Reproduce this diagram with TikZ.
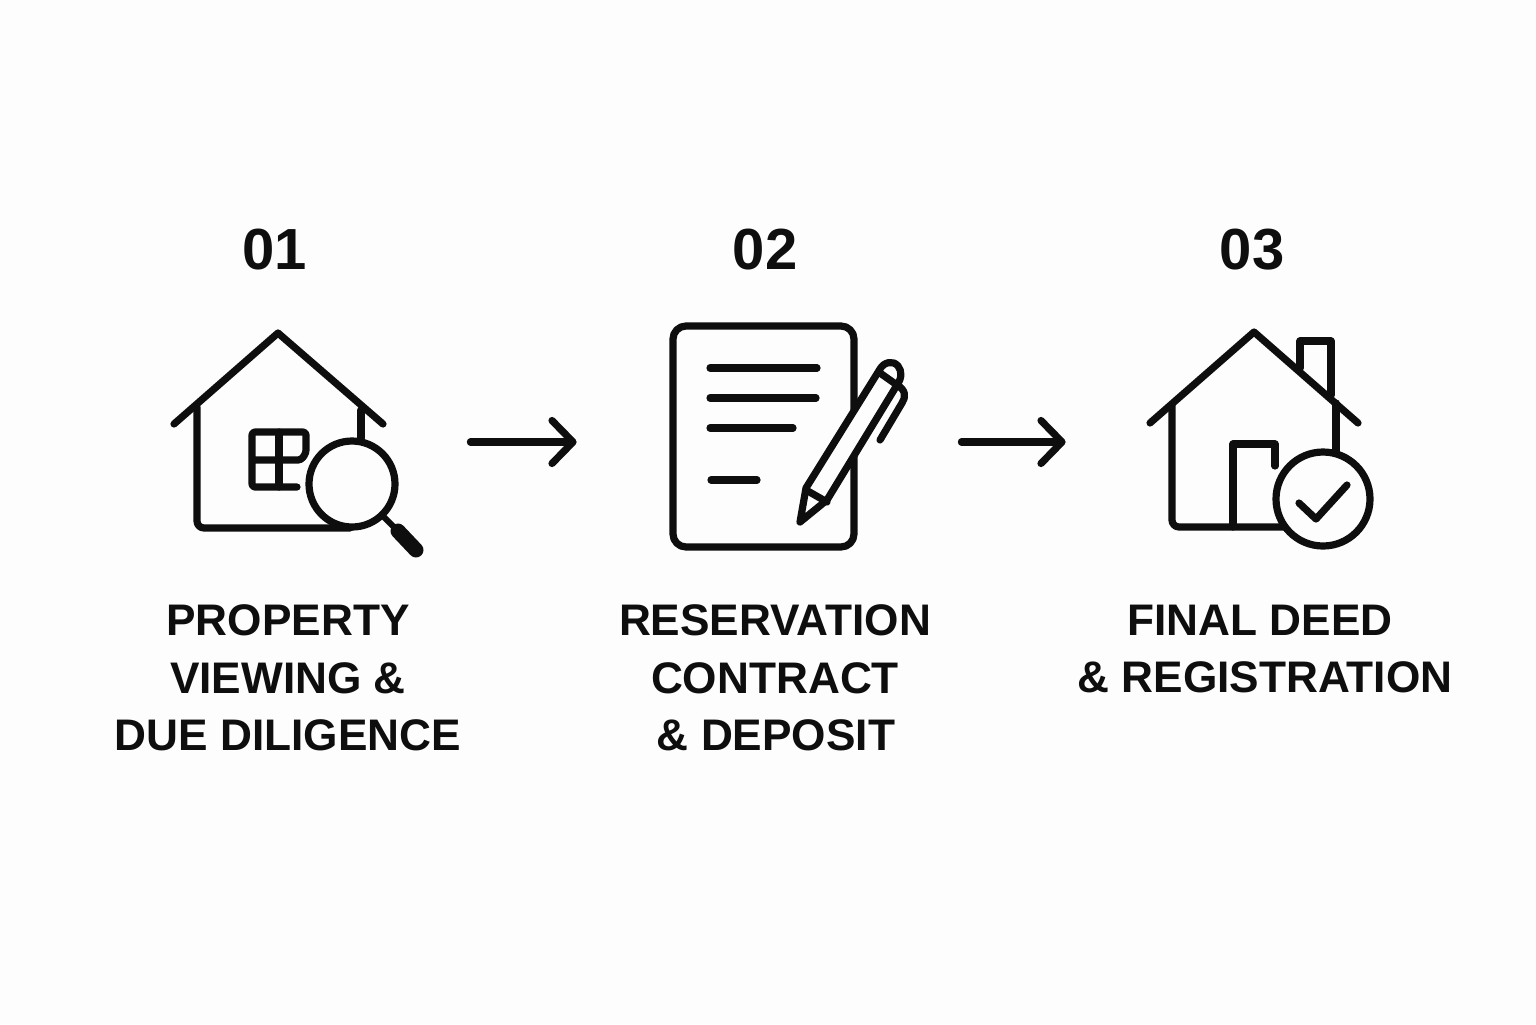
\documentclass[tikz,border=0pt]{standalone}
\usepackage{fontspec}
\setmainfont{Liberation Sans}
\usetikzlibrary{arrows.meta}
\definecolor{ink}{HTML}{0E0E0E}
\definecolor{paper}{HTML}{FDFDFD}

\begin{document}
\begin{tikzpicture}[x=0.5pt,y=-0.5pt,>={Straight Barb[length=10.5pt,width=21.5pt,round]},
                    line cap=round,line join=round,draw=ink,text=ink]
  \tikzset{icon/.style={line width=3.6pt},
           thin icon/.style={line width=3pt},
           iconbox/.style={inner sep=0pt,minimum height=110pt},
           stepnum/.style={font=\bfseries\fontsize{29}{29}\selectfont},
           steplabel/.style={font=\bfseries\fontsize{22.1}{28.7}\selectfont,align=center,anchor=north}}

  \fill[paper] (0,0) rectangle (1536,1024);
  \useasboundingbox (0,0) rectangle (1536,1024);

  \node[iconbox,minimum width=170pt] (view) at (300,442) {};
  \node[iconbox,minimum width=192pt] (contract) at (769,442) {};
  \node[iconbox,minimum width=194pt] (deed) at (1260,442) {};

  \node[stepnum] (n1) at (275,250) {01};
  \node[stepnum] (n2) at (765,250) {02};
  \node[stepnum] (n3) at (1252,250) {03};

  \node[steplabel] (l1) at (288,598) {PROPERTY\\VIEWING \&\\DUE DILIGENCE};
  \node[steplabel] (l2) at (775,598) {RESERVATION\\CONTRACT\hspace*{4pt}\\\hspace*{1pt}\& DEPOSIT};
  \node[steplabel] (l3) at (1265,598) {FINAL DEED\hspace*{5pt}\\\& REGISTRATION};

  % first house
  \draw[icon] (174,424) -- (278,333) -- (383,424);
  \draw[icon,rounded corners=3.5pt] (197,407) -- (197,528) -- (350,528);
  \draw[icon] (361,410) -- (361,438);
  \draw[icon,rounded corners=1.5pt] (297,487) -- (252,487) -- (252,432) -- (306,432) -- (306,453) -- (301,460) -- (252,460);
  \draw[icon] (279,432) -- (279,487);
  \draw[icon,fill=paper] (352,484) circle (43);
  \draw[thin icon] (383,516) -- (397,530);
  \draw[line width=7.5pt] (398,531) -- (416,550);

  % contract sheet
  \draw[icon,rounded corners=6.5pt] (673,326) rectangle (854,547);
  \draw[icon] (710,368) -- (817,368);
  \draw[icon] (710,398) -- (816,398);
  \draw[icon] (710,428) -- (793,428);
  \draw[icon] (711,480) -- (757,480);
  \draw[icon,fill=paper] (800,522) -- (806,488) -- (880,369) .. controls (884,362) and (893,360) .. (898,366) .. controls (902,371) and (902,378) .. (897,385) -- (827,500) -- cycle;
  \draw[icon] (806,490) -- (827,502);
  \draw[icon] (880,373) -- (897,385);
  \draw[icon] (897,385) .. controls (906,390) and (906,397) .. (902,403) -- (880,440);

  % last house
  \draw[icon] (1150,423) -- (1254,332) -- (1358,423);
  \draw[icon,rounded corners=3.5pt] (1172,405) -- (1172,527) -- (1285,527);
  \draw[icon] (1336,403) -- (1336,452);
  \draw[icon] (1300,368) -- (1300,341) -- (1331,341) -- (1331,395);
  \draw[icon] (1233,527) -- (1233,444) -- (1275,444) -- (1275,466);
  \draw[icon,fill=paper] (1323,499) circle (47);
  \draw[icon] (1299,503) -- (1316,519) -- (1347,485);

  \draw[icon,->] (view) -- (contract);
  \draw[icon,->] (contract) -- (deed);
\end{tikzpicture}
\end{document}
